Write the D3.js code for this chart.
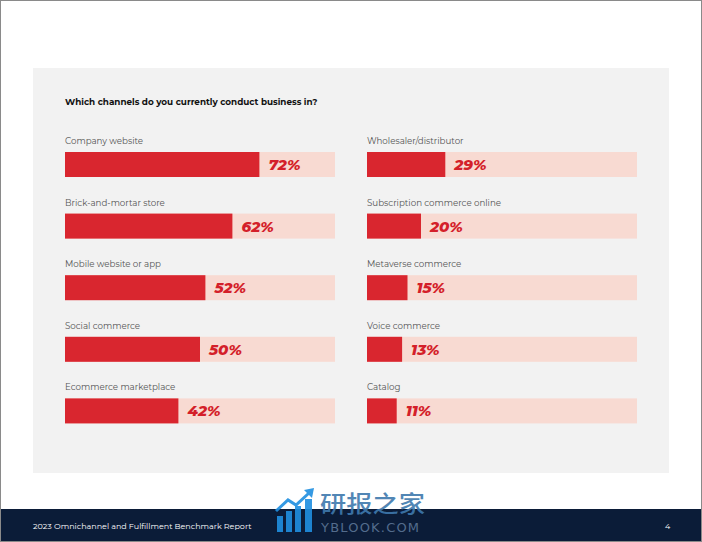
<!DOCTYPE html>
<html><head><meta charset="utf-8">
<script src="https://cdn.jsdelivr.net/npm/d3@7"></script>
<style>
html,body{margin:0;padding:0;background:#fff;}
svg{display:block;}
</style></head>
<body>
<script>
const title = "Which channels do you currently conduct business in?";
const leftCategories = ["Company website","Brick-and-mortar store","Mobile website or app","Social commerce","Ecommerce marketplace"];
const leftValues = [72,62,52,50,42];
const rightCategories = ["Wholesaler/distributor","Subscription commerce online","Metaverse commerce","Voice commerce","Catalog"];
const rightValues = [29,20,15,13,11];
const footerText = "2023 Omnichannel and Fulfillment Benchmark Report";
const pageNumber = "4";

const W = 702, H = 542;
const svg = d3.select("body").append("svg").attr("width", W).attr("height", H);
const font = "Montserrat, Inter, 'Noto Sans', sans-serif";

svg.append("rect").attr("x",0.5).attr("y",0.5).attr("width",W-1).attr("height",H-1)
  .attr("fill","#fff").attr("stroke","#8a8a8a").attr("stroke-width",1);

svg.append("rect").attr("x",33).attr("y",68).attr("width",636).attr("height",405).attr("fill","#f2f2f2");

svg.append("text").attr("x",65).attr("y",105).text(title)
  .attr("font-family",font).attr("font-weight",700).attr("font-size",8.8).attr("fill","#111");

const y = d3.scaleBand().domain(d3.range(5)).range([132, 440]).paddingInner(0).paddingOuter(0);

function column(cats, vals, x0) {
  const x = d3.scaleLinear().domain([0,100]).range([x0, x0+270]);
  const g = svg.append("g");
  const rows = g.selectAll("g").data(cats.map((c,i)=>({c, v: vals[i], i}))).join("g")
    .attr("transform", d => `translate(0,${y(d.i)})`);
  rows.append("text").attr("x", x0).attr("y", 12).text(d=>d.c)
    .attr("font-family",font).attr("font-size",8.7).attr("fill","#555");
  rows.append("rect").attr("x", x(0)).attr("y", 20).attr("width", x(100)-x(0)).attr("height", 25).attr("fill","#f8dad2");
  rows.append("rect").attr("x", x(0)).attr("y", 20).attr("width", d=>x(d.v)-x(0)).attr("height", 25).attr("fill","#d9262f");
  rows.append("text").attr("x", d=>x(d.v)+9).attr("y", 38).text(d=>d.v+"%")
    .attr("font-family",font).attr("font-weight",800).attr("font-style","italic").attr("font-size",15).attr("fill","#d41f2a");
}
column(leftCategories, leftValues, 65);
column(rightCategories, rightValues, 367);

svg.append("rect").attr("x",1).attr("y",509).attr("width",W-2).attr("height",H-510).attr("fill","#0b1c38");
svg.append("text").attr("x",33).attr("y",529).text(footerText)
  .attr("font-family",font).attr("font-size",8).attr("fill","#fff");
svg.append("text").attr("x",665).attr("y",529).text(pageNumber)
  .attr("font-family",font).attr("font-size",8).attr("fill","#fff");

// watermark
const wm = svg.append("g").attr("opacity",0.9);
[[277,516,6,16],[286,511,6,21],[295,506,6,26],[305,499,7,33]].forEach(b=>{
  wm.append("rect").attr("x",b[0]).attr("y",b[1]).attr("width",b[2]).attr("height",b[3]).attr("fill","#1f8fe0");
});
wm.append("path").attr("d","M276,511 L288,500 L296,505 L309,493").attr("fill","none").attr("stroke","#1f8fe0").attr("stroke-width",3);
wm.append("path").attr("d","M304,490 L314,488 L312,498 Z").attr("fill","#1f8fe0");
wm.append("text").attr("transform","translate(320,512) scale(1.14,1)").text("研报之家").attr("font-family","'Noto Sans CJK SC'")
  .attr("font-size",23).attr("font-weight",500).attr("fill","#3f79ad");
wm.append("text").attr("x",321).attr("y",532).text("YBLOOK.COM").attr("font-family","'DejaVu Sans', sans-serif")
  .attr("font-size",13).attr("fill","#5b7596").attr("letter-spacing",1.2);
</script>
</body></html>
